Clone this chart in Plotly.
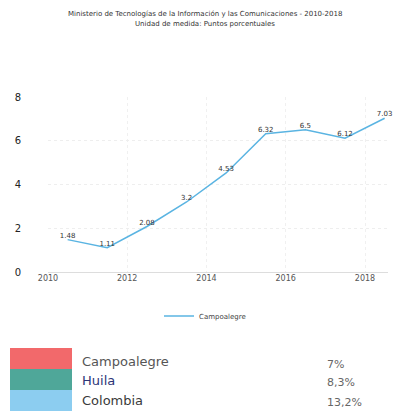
import plotly.graph_objects as go

# ---- data ----
periods = ["2010-07-01", "2011-07-01", "2012-07-01", "2013-07-01", "2014-07-01",
           "2015-07-01", "2016-07-01", "2017-07-01", "2018-07-01"]
campoalegre = [1.48, 1.11, 2.08, 3.2, 4.53, 6.32, 6.5, 6.12, 7.03]
point_labels = ["1.48", "1.11", "2.08", "3.2", "4.53", "6.32", "6.5", "6.12", "7.03"]
series_name = "Campoalegre"

table_names = ["Campoalegre", "Huila", "Colombia"]
table_values = ["7%", "8,3%", "13,2%"]

title_lines = ["Ministerio de Tecnologías de la Información y las Comunicaciones - 2010-2018",
               "Unidad de medida: Puntos porcentuales"]

# ---- layout helpers (pixel -> paper) ----
W, H = 394, 411
L, R = 48, 388
T, B = 97, 272
def px(x):
    return (x - L) / (R - L)
def py(y):
    return (B - y) / (B - T)

box_colors = ["#f2696b", "#4fa799", "#8ccdf0"]
name_colors = ["#555555", "#2c3577", "#3a3a3a"]

fig = go.Figure()
fig.add_trace(go.Scatter(
    x=periods, y=campoalegre, mode="lines+text", name=series_name,
    text=point_labels, textposition="top center", cliponaxis=False,
    textfont=dict(size=7, color="#333333", family="DejaVu Sans"),
    line=dict(color="#5ab4e2", width=1.5),
))

fig.update_layout(
    width=W, height=H,
    margin=dict(l=L, r=W - R, t=T, b=H - B, autoexpand=False),
    paper_bgcolor="white", plot_bgcolor="white",
    font=dict(family="DejaVu Sans", color="#333333"),
    showlegend=True,
    legend=dict(orientation="h", x=px(205), xanchor="center", y=py(316), yanchor="middle",
                font=dict(size=7, color="#444444"), itemwidth=30),
    xaxis=dict(type="date", range=["2010-01-01", "2018-08-01"], automargin=False,
               tickvals=["2010-01-01", "2012-01-01", "2014-01-01", "2016-01-01", "2018-01-01"],
               ticktext=["2010", "2012", "2014", "2016", "2018"],
               tickfont=dict(size=8, color="#555555"),
               showgrid=True, gridcolor="#f0f0f0", griddash="dot",
               zeroline=False, showline=False, ticks=""),
    yaxis=dict(range=[0, 8], tickvals=[0, 2, 4, 6, 8], automargin=False,
               tickfont=dict(size=10, color="#222222", family="DejaVu Sans"),
               showgrid=True, gridcolor="#eeeeee", griddash="dot",
               zeroline=True, zerolinecolor="#dddddd", zerolinewidth=1,
               ticklabelstandoff=26),
)

# title
for i, line in enumerate(title_lines):
    fig.add_annotation(text=line, xref="paper", yref="paper", x=px(205), y=py(14 + 10 * i),
                       showarrow=False, font=dict(size=7, color="#333333"),
                       xanchor="center", yanchor="middle")

# table below
row_tops = [348, 369, 390]
row_h = [21, 21, 21]
name_y = [361, 380, 400]
val_y = [364, 382, 402]
for i, (name, val) in enumerate(zip(table_names, table_values)):
    y0, y1 = row_tops[i], row_tops[i] + row_h[i]
    fig.add_shape(type="rect", xref="paper", yref="paper",
                  x0=px(10), x1=px(72), y0=py(y1), y1=py(y0),
                  fillcolor=box_colors[i], line=dict(width=0))
    fig.add_annotation(text=name, xref="paper", yref="paper", x=px(80), y=py(name_y[i]),
                       showarrow=False, xanchor="left", yanchor="middle",
                       font=dict(size=13, color=name_colors[i], family="DejaVu Sans"))
    fig.add_annotation(text=val, xref="paper", yref="paper", x=px(325), y=py(val_y[i]),
                       showarrow=False, xanchor="left", yanchor="middle",
                       font=dict(size=11, color="#666666", family="DejaVu Sans"))

fig.write_html("out.html", config={"displayModeBar": False},
               post_script="document.body.style.margin='0';document.body.style.overflow='hidden';")
